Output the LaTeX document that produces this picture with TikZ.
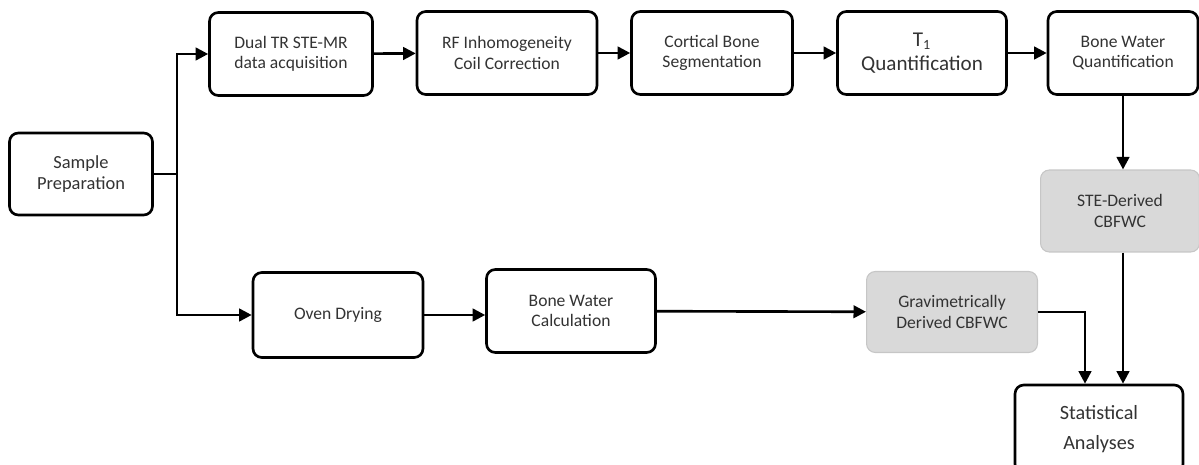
\documentclass[tikz,border=0pt]{standalone}
\usepackage{fontspec}
\setmainfont{Carlito}
\usetikzlibrary{arrows.meta, positioning}

\begin{document}
\begin{tikzpicture}[x=0.02cm, y=-0.02cm,
        box/.style={rectangle, draw=black, line width=1.5pt, rounded corners=5pt,
                    fill=white, text=black!80, align=center, font=\fontsize{10}{11.5}\selectfont,
                    minimum height=1.66cm, inner sep=2pt},
        graybox/.style={box, draw=gray!45, line width=0.6pt, fill=gray!30},
        bigtxt/.style={font=\fontsize{12}{14}\selectfont},
        arr/.style={-{Triangle[length=2.5mm,width=2.5mm]}, line width=1.5pt, black},
        ln/.style={line width=1.5pt, black}]
      \useasboundingbox (0,0) rectangle (1199,465);
      % top row
      \node[box, font=\fontsize{10.5}{11.5}\selectfont, minimum width=2.86cm, minimum height=1.64cm] (sp) at (81,174) {Sample\\Preparation};
      \node[box, minimum width=3.26cm] (dual) at (291,54) {Dual TR STE-MR\\data acquisition};
      \node[box, minimum width=3.6cm] (rf) at (507,53) {RF Inhomogeneity\\Coil Correction};
      \node[box, minimum width=3.22cm] (cort) at (712,53) {Cortical Bone\\Segmentation};
      \node[box, bigtxt, minimum width=3.38cm] (tone) at (922,53) {T\textsubscript{1}\\Quantification};
      \node[box, minimum width=3.0cm] (bwq) at (1123,53) {Bone Water\\Quantification};
      \node[graybox, minimum width=3.18cm, minimum height=1.64cm] (ste) at (1120,211) {STE-Derived\\CBFWC};
      % bottom row
      \node[box, minimum width=3.4cm, minimum height=1.7cm] (oven) at (338,315) {Oven Drying};
      \node[box, minimum width=3.38cm] (bwc) at (571,311) {Bone Water\\Calculation};
      \node[graybox, minimum width=3.42cm, minimum height=1.62cm] (grav) at (952,312) {Gravimetrically\\Derived CBFWC};
      \node[box, font=\fontsize{11.5}{17}\selectfont, minimum width=3.36cm, minimum height=1.76cm] (stat) at (1099,429) {Statistical\\Analyses};
      % connectors
      \coordinate (split) at (177,174);
      \draw[ln] (sp.east) -- (split);
      \draw[arr] (split) |- (dual.west);
      \draw[arr] (split) |- (oven.west);
      \draw[arr] (dual) -- (rf);
      \draw[arr] (rf) -- (cort);
      \draw[arr] (cort) -- (tone);
      \draw[arr] (tone) -- (bwq);
      \draw[arr] (bwq.south) -- (bwq.south |- ste.north);
      \draw[arr] (bwq.south |- ste.south) -- (bwq.south |- stat.north);
      \draw[arr] (oven.east) -- (oven.east -| bwc.west);
      \draw[arr] (bwc) -- (grav);
      \draw[arr] (grav.east) -| ([xshift=-0.28cm]stat.north);
\end{tikzpicture}
\end{document}
